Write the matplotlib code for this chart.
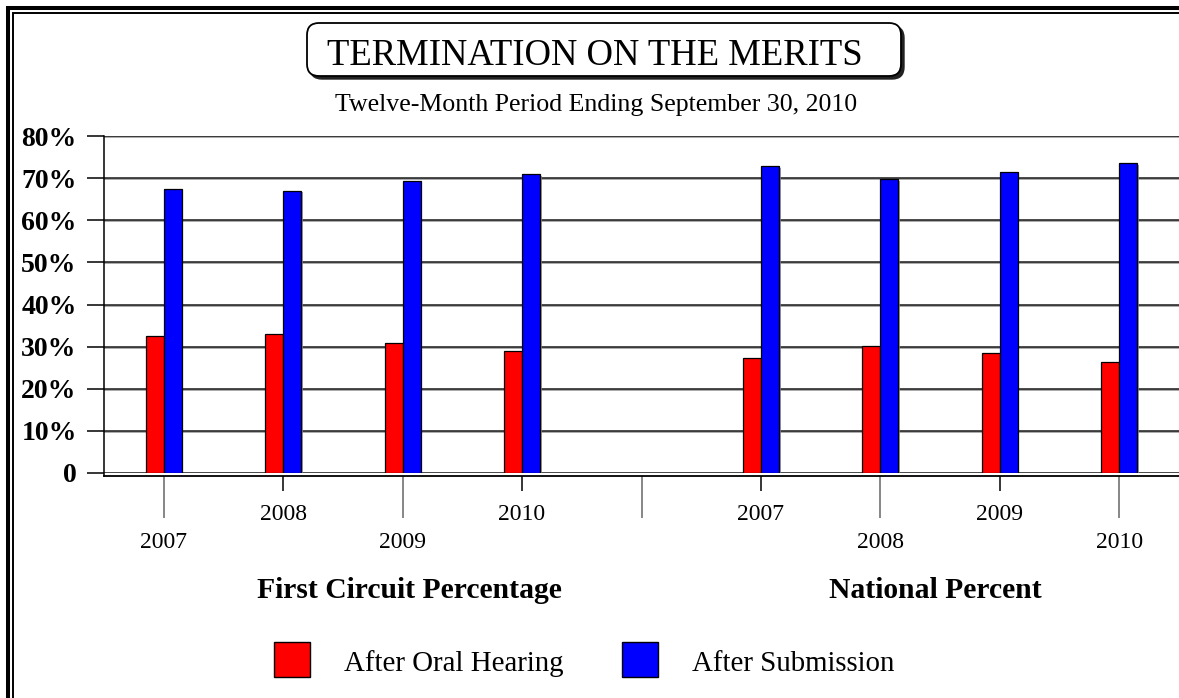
import matplotlib
matplotlib.use("Agg")
import matplotlib.pyplot as plt
import matplotlib.patheffects as pe
from matplotlib.patches import Rectangle, FancyBboxPatch
from matplotlib.transforms import IdentityTransform

plt.rcParams.update({
    "font.family": ["Liberation Serif", "DejaVu Serif"],
    "font.size": 17,
})

# ── data ──
years = ["2007", "2008", "2009", "2010"]
groups = ["First Circuit Percentage", "National Percent"]
series = ["After Oral Hearing", "After Submission"]
oral_first = [32.5, 33.0, 30.8, 28.9]
subm_first = [67.4, 67.0, 69.2, 71.0]
oral_nat = [27.2, 30.2, 28.5, 26.4]
subm_nat = [72.8, 69.7, 71.5, 73.6]
yticks = [0, 10, 20, 30, 40, 50, 60, 70, 80]
ytick_labels = ["0"] + [f"{v}%" for v in yticks[1:]]

RED = "#ff0000"
BLUE = "#0000ff"
W, H = 1179, 698


def fx(x):
    return x / W


def fy(y):
    return 1 - y / H


fig = plt.figure(figsize=(W / 100, H / 100), dpi=100)
fig.patch.set_facecolor("white")

# double frame (cut by the right / bottom edge like the scan)
fig.add_artist(Rectangle((8, -40), 1300, H - 8 + 40, transform=IdentityTransform(),
                         fill=False, ec="black", lw=2.9))
fig.add_artist(Rectangle((13, -40), 1300, H - 13 + 40, transform=IdentityTransform(),
                         fill=False, ec="black", lw=1.4))

# title box with shadow
bx0, bx1, by_top, by_bot = 307, 901, 23, 76
fig.add_artist(FancyBboxPatch((bx0 + 3, H - by_bot - 3), bx1 - bx0, by_bot - by_top,
                              boxstyle="round,pad=0,rounding_size=12",
                              transform=IdentityTransform(), fc="#222", ec="#222", lw=1))
fig.add_artist(FancyBboxPatch((bx0, H - by_bot), bx1 - bx0, by_bot - by_top,
                              boxstyle="round,pad=0,rounding_size=12",
                              transform=IdentityTransform(), fc="white", ec="black", lw=1.3))
fig.text(fx(595), fy(65), "TERMINATION ON THE MERITS", ha="center", va="baseline",
         fontsize=26.4)
fig.text(fx(596), fy(111), "Twelve-Month Period Ending September 30, 2010",
         ha="center", va="baseline", fontsize=18.6)

# ── axes ──
ax = fig.add_axes([fx(104), fy(473), 1 - fx(104), (473 - 136) / H])

pos_first = [0, 1, 2, 3]
pos_nat = [5, 6, 7, 8]
bw = 0.15
shadow = [pe.withSimplePatchShadow(offset=(1.2, -1.2), shadow_rgbFace="#888", alpha=0.8)]

ax.bar([p - bw / 2 for p in pos_first], oral_first, bw, color=RED, ec="black", lw=0.9,
       path_effects=shadow, zorder=3, label=series[0])
ax.bar([p + bw / 2 for p in pos_first], subm_first, bw, color=BLUE, ec="black", lw=0.9,
       path_effects=shadow, zorder=3, label=series[1])
ax.bar([p - bw / 2 for p in pos_nat], oral_nat, bw, color=RED, ec="black", lw=0.9,
       path_effects=shadow, zorder=3)
ax.bar([p + bw / 2 for p in pos_nat], subm_nat, bw, color=BLUE, ec="black", lw=0.9,
       path_effects=shadow, zorder=3)

ax.set_xlim(-0.5, 8.5)
ax.set_ylim(0, 80)

ax.set_yticks(yticks)
ax.set_yticklabels(ytick_labels, fontweight="bold", fontsize=20)
ax.tick_params(axis="y", length=12.2, width=1.1, color="black", pad=7.5)
ax.yaxis.grid(True, color="#1a1a1a", lw=1.1,
              path_effects=[pe.SimpleLineShadow(offset=(0, -0.8), shadow_color="#888", alpha=0.9),
                            pe.Normal()])
ax.set_axisbelow(True)

# long ticks on even slots, short ticks on odd slots
ax.set_xticks([0, 2, 4, 6, 8])
ax.set_xticks([1, 3, 5, 7], minor=True)
ax.tick_params(axis="x", which="major", length=30, width=1.1, color="#666", labelbottom=False)
ax.tick_params(axis="x", which="minor", length=10.5, width=1.1, color="black", labelbottom=False)

for s in ["top", "right"]:
    ax.spines[s].set_visible(False)
ax.spines["bottom"].set_position(("outward", 2.2))
ax.spines["bottom"].set_linewidth(1.3)
ax.spines["left"].set_linewidth(1.1)
ax.spines["left"].set_bounds(-0.7, 80)

# year labels staggered: short-tick slots high, long-tick slots low
for p, yr in zip(pos_first + pos_nat, years + years):
    dy = -42 if p % 2 else -70
    ax.annotate(yr, xy=(p, 0), xycoords=("data", "axes fraction"),
                xytext=(0, dy * 0.72), textcoords="offset points",
                ha="center", va="center", fontsize=17)

fig.text(fx(409), fy(598), groups[0], ha="center", va="baseline",
         fontsize=21.3, fontweight="bold")
fig.text(fx(935), fy(598), groups[1], ha="center", va="baseline",
         fontsize=21.3, fontweight="bold")

# legend
for x0, col, lab in [(274, RED, series[0]), (622, BLUE, series[1])]:
    fig.add_artist(Rectangle((x0, H - 677), 36, 35, transform=IdentityTransform(),
                             fc=col, ec="black", lw=1))
    fig.text(fx(x0 + 70), fy(671), lab, ha="left", va="baseline", fontsize=20.8)

fig.savefig("out.png", dpi=100)
